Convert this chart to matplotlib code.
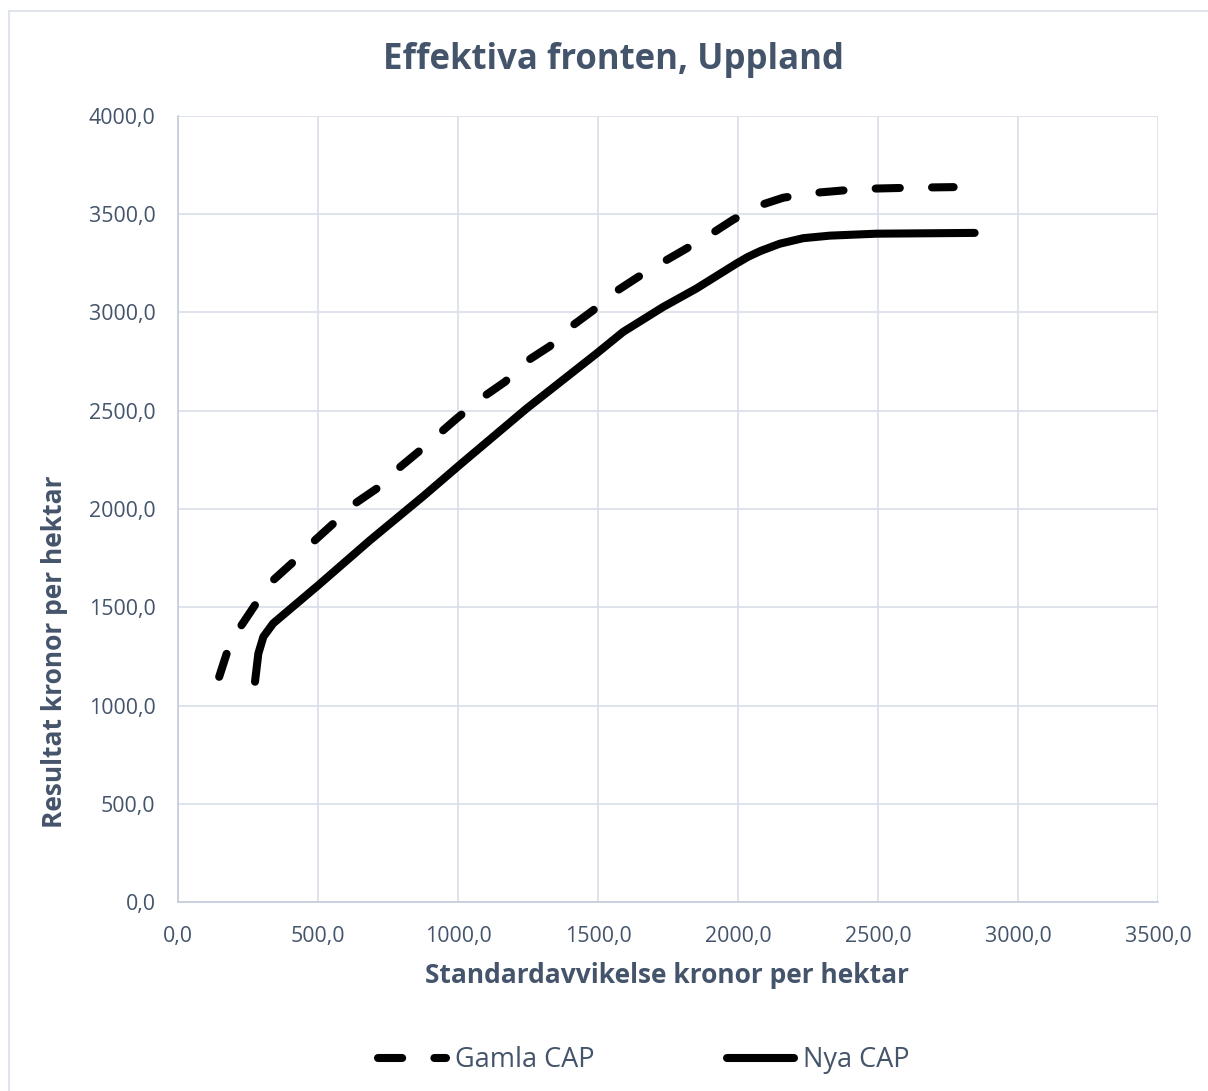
import matplotlib.pyplot as plt
from matplotlib.patches import Rectangle
from matplotlib.lines import Line2D

# Efficient frontier, old vs new CAP (kr per hectare)
gamla_sd = [146, 173, 226, 274, 339, 405, 482, 554, 631, 709, 786, 857, 994, 1089,
            1167, 1250, 1327, 1405, 1482, 1560, 1643, 1732, 1804, 1905, 1982, 2077,
            2161, 2268, 2375, 2470, 2620, 2770]
gamla_res = [1146, 1265, 1409, 1511, 1638, 1723, 1833, 1926, 2028, 2104, 2206, 2290,
             2460, 2570, 2647, 2757, 2828, 2930, 3011, 3104, 3181, 3257, 3316, 3401,
             3472, 3545, 3584, 3608, 3621, 3630, 3635, 3638]

nya_sd = [274, 286, 304, 339, 500, 685, 876, 1010, 1244, 1494, 1589, 1732, 1851,
          1994, 2035, 2080, 2149, 2232, 2327, 2494, 2670, 2845]
nya_res = [1121, 1265, 1350, 1418, 1612, 1841, 2066, 2230, 2511, 2791, 2901, 3028,
           3122, 3249, 3283, 3313, 3350, 3378, 3391, 3401, 3403, 3405]

x_ticks = [0, 500, 1000, 1500, 2000, 2500, 3000, 3500]
y_ticks = [0, 500, 1000, 1500, 2000, 2500, 3000, 3500, 4000]

txt = "#44546A"
grid_c = "#D9DEE8"
plt.rcParams["font.family"] = ["Open Sans", "DejaVu Sans"]

fig = plt.figure(figsize=(12.08, 10.91), dpi=100)
ax = fig.add_axes([0.1476, 0.1732, 0.8110, 0.7205])

# chart area border
fig.patches.append(Rectangle((9 / 1208, -0.1), 1.2, 1 - 11 / 1091 + 0.1,
                             transform=fig.transFigure, fill=False,
                             edgecolor="#D9DEE8", linewidth=1.2))

ax.plot(gamla_sd, gamla_res, color="black", linewidth=5.8,
        linestyle=(0, (3, 4)), dash_capstyle="round", dash_joinstyle="round")
ax.plot(nya_sd, nya_res, color="black", linewidth=5.8,
        solid_capstyle="round", solid_joinstyle="round")

ax.set_xlim(0, 3500)
ax.set_ylim(0, 4000)
ax.set_xticks(x_ticks)
ax.set_yticks(y_ticks)
ax.set_xticklabels([f"{v:.1f}".replace(".", ",") for v in x_ticks])
ax.set_yticklabels([f"{v:.1f}".replace(".", ",") for v in y_ticks])
ax.tick_params(length=0, labelsize=15.4, labelcolor=txt)
ax.tick_params(axis="x", pad=17.5)
ax.tick_params(axis="y", pad=16.5)
ax.grid(True, color=grid_c, linewidth=1.2)
ax.set_axisbelow(True)
for side in ["top", "right"]:
    ax.spines[side].set_visible(False)
for side in ["left", "bottom"]:
    ax.spines[side].set_color("#C4CCDA")
    ax.spines[side].set_linewidth(1.2)

fig.text(0.508, 0.945, "Effektiva fronten, Uppland", ha="center", va="center",
         fontsize=25, fontweight="bold", color=txt)
fig.text(0.5525, 0.1063, "Standardavvikelse kronor per hektar", ha="center",
         va="center", fontsize=19, fontweight="bold", color=txt)
fig.text(0.0455, 0.403, "Resultat kronor per hektar", ha="center", va="center",
         rotation=90, fontsize=19, fontweight="bold", color=txt)

handles = [
    Line2D([], [], color="black", linewidth=5.8, linestyle=(0, (3, 4)),
           dash_capstyle="round"),
    Line2D([], [], color="black", linewidth=5.8, solid_capstyle="round"),
]
fig.legend(handles, ["Gamla CAP", "Nya CAP"], loc="center",
           bbox_to_anchor=(0.533, 0.028), ncol=2, frameon=False,
           fontsize=19.5, labelcolor=txt, handlelength=2.5,
           handletextpad=0.33, columnspacing=4.9)

fig.savefig("out.png", dpi=100, facecolor="white")
